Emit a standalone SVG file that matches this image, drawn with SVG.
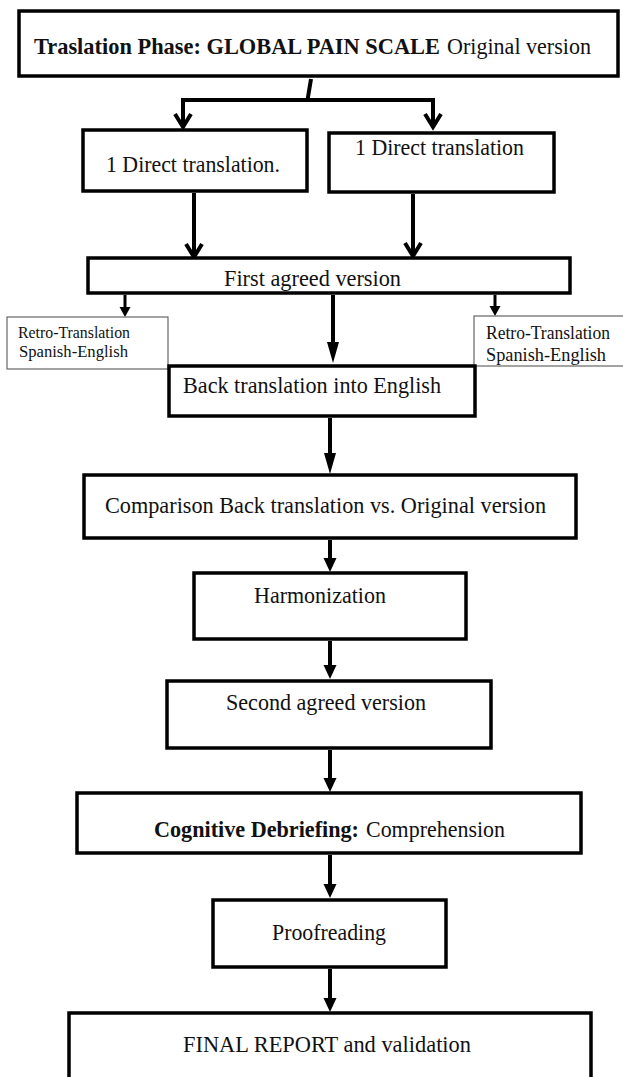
<svg xmlns="http://www.w3.org/2000/svg" width="623" height="1077" viewBox="0 0 623 1077">
<style>
.box{fill:#fff;stroke:#000;stroke-width:3.5}
.thin{fill:#fff;stroke:#666;stroke-width:1.2}
.t{font-family:"Liberation Serif","Times New Roman",serif;font-size:23.4px;fill:#111;text-anchor:middle}
.l{text-anchor:start}
.s{font-family:"Liberation Serif","Times New Roman",serif;fill:#111}
.b{font-weight:bold}
.c{fill:none;stroke:#000;stroke-width:4;stroke-linejoin:miter}
.c3{fill:none;stroke:#000;stroke-width:3}
</style>
<defs>
<marker id="chev" markerUnits="userSpaceOnUse" orient="auto" overflow="visible" markerWidth="1" markerHeight="1" refX="0" refY="0">
<path d="M-12,-8 L1,0 L-12,8" fill="none" stroke="#000" stroke-width="4"/>
</marker>
<marker id="triL" markerUnits="userSpaceOnUse" orient="auto" overflow="visible" markerWidth="1" markerHeight="1" refX="0" refY="0">
<path d="M8,0 L-13,-6 L-13,6 Z" fill="#000"/>
</marker>
<marker id="triS" markerUnits="userSpaceOnUse" orient="auto" overflow="visible" markerWidth="1" markerHeight="1" refX="0" refY="0">
<path d="M6,0 L-8,-6.5 L-8,6.5 Z" fill="#000"/>
</marker>
<marker id="triXS" markerUnits="userSpaceOnUse" orient="auto" overflow="visible" markerWidth="1" markerHeight="1" refX="0" refY="0">
<path d="M5,0 L-5,-5.5 L-5,5.5 Z" fill="#000"/>
</marker>
</defs>

<g id="connectors">
<path class="c" d="M311,79 L307.5,100"/>
<path class="c" d="M309,100 L183,100 L183,126" marker-end="url(#chev)"/>
<path class="c" d="M307,100 L433,100 L433,126" marker-end="url(#chev)"/>
<path class="c" d="M194,193 L194,256" marker-end="url(#chev)"/>
<path class="c" d="M413,194 L413,255" marker-end="url(#chev)"/>
<path class="c3" d="M125,295 L125,312" marker-end="url(#triXS)"/>
<path class="c3" d="M495,295 L495,311" marker-end="url(#triXS)"/>
<path class="c" d="M333,295 L333,355" marker-end="url(#triL)"/>
<path class="c" d="M330,418 L330,466" marker-end="url(#triL)"/>
<path class="c" d="M330,540 L330,566" marker-end="url(#triS)"/>
<path class="c" d="M330,641 L330,673" marker-end="url(#triS)"/>
<path class="c" d="M330,750 L330,786" marker-end="url(#triS)"/>
<path class="c" d="M330,855 L330,892" marker-end="url(#triS)"/>
<path class="c" d="M330,969 L330,1006" marker-end="url(#triS)"/>
</g>

<g id="node-title">
<rect class="box" x="19" y="11" width="599" height="65"/>
<text class="t l b" x="34" y="54" textLength="406" lengthAdjust="spacingAndGlyphs">Traslation Phase: GLOBAL PAIN SCALE</text>
<text class="t l" x="447" y="54" textLength="144" lengthAdjust="spacingAndGlyphs">Original version</text>
</g>

<g id="node-direct1">
<rect class="box" x="83" y="130" width="224" height="61"/>
<text class="t" x="193" y="172" textLength="174" lengthAdjust="spacingAndGlyphs">1 Direct translation.</text>
</g>

<g id="node-direct2">
<rect class="box" x="329" y="133" width="225" height="59"/>
<text class="t" x="439.5" y="155" textLength="169" lengthAdjust="spacingAndGlyphs">1 Direct translation</text>
</g>

<g id="node-first-agreed">
<rect class="box" x="88" y="258" width="482" height="35"/>
<text class="t" x="312.5" y="286" textLength="177" lengthAdjust="spacingAndGlyphs">First agreed version</text>
</g>

<g id="node-retro-left">
<rect class="thin" x="7" y="317" width="161" height="52"/>
<text class="s" x="18" y="338" font-size="16.5" textLength="112" lengthAdjust="spacingAndGlyphs">Retro-Translation</text>
<text class="s" x="19" y="357" font-size="16.5" textLength="109" lengthAdjust="spacingAndGlyphs">Spanish-English</text>
</g>

<g id="node-retro-right">
<rect class="thin" x="474" y="316" width="160" height="50"/>
<text class="s" x="486" y="339" font-size="18" textLength="124" lengthAdjust="spacingAndGlyphs">Retro-Translation</text>
<text class="s" x="486" y="361" font-size="18" textLength="120" lengthAdjust="spacingAndGlyphs">Spanish-English</text>
</g>

<g id="node-back-translation">
<rect class="box" x="169" y="366" width="306" height="50"/>
<text class="t" x="312" y="393" textLength="258" lengthAdjust="spacingAndGlyphs">Back translation into English</text>
</g>

<g id="node-comparison">
<rect class="box" x="84" y="475" width="492" height="63"/>
<text class="t" x="325.5" y="513" textLength="441" lengthAdjust="spacingAndGlyphs">Comparison Back translation vs. Original version</text>
</g>

<g id="node-harmonization">
<rect class="box" x="194" y="573" width="272" height="66"/>
<text class="t" x="320" y="603" textLength="132" lengthAdjust="spacingAndGlyphs">Harmonization</text>
</g>

<g id="node-second-agreed">
<rect class="box" x="167" y="681" width="324" height="67"/>
<text class="t" x="326" y="710" textLength="200" lengthAdjust="spacingAndGlyphs">Second agreed version</text>
</g>

<g id="node-cognitive">
<rect class="box" x="77" y="793" width="504" height="60"/>
<text class="t l b" x="154" y="837" textLength="205" lengthAdjust="spacingAndGlyphs">Cognitive Debriefing:</text>
<text class="t l" x="366" y="837" textLength="139" lengthAdjust="spacingAndGlyphs">Comprehension</text>
</g>

<g id="node-proofreading">
<rect class="box" x="213" y="900" width="233" height="67"/>
<text class="t" x="329" y="940" textLength="114" lengthAdjust="spacingAndGlyphs">Proofreading</text>
</g>

<g id="node-final">
<rect class="box" x="69" y="1013" width="522" height="80"/>
<text class="t" x="327" y="1052" textLength="288" lengthAdjust="spacingAndGlyphs">FINAL REPORT and validation</text>
</g>
</svg>
